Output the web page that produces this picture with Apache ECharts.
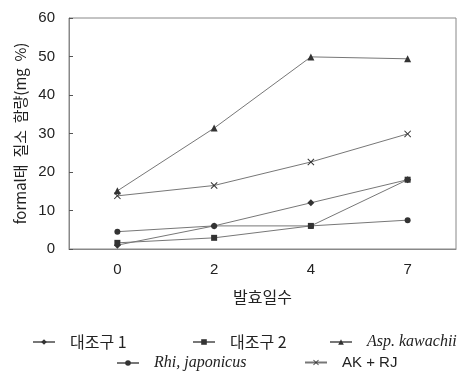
<!DOCTYPE html>
<html><head><meta charset="utf-8">
<script src="https://cdn.jsdelivr.net/npm/echarts@6/dist/echarts.min.js"></script>
<style>html,body{margin:0;padding:0;background:#fff}#c{width:467px;height:390px}</style>
</head><body><div id="c"></div>
<script>
const days = ['0', '2', '4', '7'];
const ctrl1 = [1.0, 6.0, 12.0, 18.0];
const ctrl2 = [1.6, 2.9, 6.0, 18.0];
const aspK = [15.1, 31.4, 49.9, 49.4];
const rhiJ = [4.5, 6.0, 6.0, 7.5];
const akRj = [13.8, 16.5, 22.6, 29.9];
const yTicks = [0, 10, 20, 30, 40, 50, 60];
const seriesNames = ['대조구 1', '대조구 2', 'Asp. kawachii', 'Rhi, japonicus', 'AK + RJ'];

const xPath = 'path://M0,1L1,0L5,4L9,0L10,1L6,5L10,9L9,10L5,6L1,10L0,9L4,5Z';
const lineColor = '#777';
const markColor = '#333';
function s(name, data, symbol, size) {
  return {
    name, type: 'line', data, symbol, symbolSize: size,
    lineStyle: { color: lineColor, width: 1 },
    itemStyle: { color: markColor },
    emphasis: { disabled: true }, animation: false
  };
}
const rich = {
  i: { fontFamily: 'Liberation Serif', fontStyle: 'italic', fontSize: 16, color: '#222', padding: [0, 0, 0, 10] },
  k: { fontFamily: 'Noto Sans CJK KR', fontSize: 16, color: '#222', padding: [0, 0, 0, 10] },
  n: { fontFamily: 'Liberation Sans', fontSize: 15, color: '#222', padding: [0, 0, 0, 10] }
};
const fmt = function (name) {
  if (name === 'Asp. kawachii' || name === 'Rhi, japonicus') return '{i|' + name + '}';
  if (name === 'AK + RJ') return '{n|' + name + '}';
  return '{k|' + name + '}';
};
const legendPos = [[32, 334], [192, 334], [329, 334], [116, 355], [304, 355]];
const legends = seriesNames.map((n, i) => ({
  data: [n], left: legendPos[i][0], top: legendPos[i][1], padding: 0,
  itemWidth: 22, itemHeight: 7, formatter: fmt, textStyle: { rich }, selectedMode: false
}));
const chart = echarts.init(document.getElementById('c'));
chart.setOption({
  backgroundColor: '#fff',
  grid: { left: 69, right: 11, top: 18, bottom: 141, show: true, borderColor: '#888', borderWidth: 1 },
  xAxis: {
    type: 'category', data: days, boundaryGap: true,
    name: '발효일수', nameLocation: 'middle', nameGap: 40,
    nameTextStyle: { fontFamily: 'Noto Sans CJK KR', fontSize: 16, color: '#222' },
    axisLine: { lineStyle: { color: '#888' } },
    axisTick: { inside: true, length: 5, lineStyle: { color: '#555' } },
    axisLabel: { fontFamily: 'Liberation Sans', fontSize: 15, color: '#222', margin: 13 }
  },
  yAxis: {
    type: 'value', min: yTicks[0], max: yTicks[yTicks.length - 1], interval: 10,
    name: 'formal태  질소  함량(mg  %)', nameLocation: 'middle', nameGap: 39,
    nameTextStyle: { fontFamily: 'Noto Sans CJK KR', fontSize: 15, color: '#222' },
    axisLine: { show: true, lineStyle: { color: '#888' } },
    axisTick: { show: true, inside: true, length: 4, lineStyle: { color: '#555' } },
    splitLine: { show: false },
    axisLabel: { fontFamily: 'Liberation Sans', fontSize: 15, color: '#222', margin: 14 }
  },
  legend: legends,
  series: [
    s(seriesNames[0], ctrl1, 'diamond', 7),
    s(seriesNames[1], ctrl2, 'rect', 6),
    s(seriesNames[2], aspK, 'triangle', 7),
    s(seriesNames[3], rhiJ, 'circle', 6),
    s(seriesNames[4], akRj, xPath, 7)
  ]
});
</script></body></html>
